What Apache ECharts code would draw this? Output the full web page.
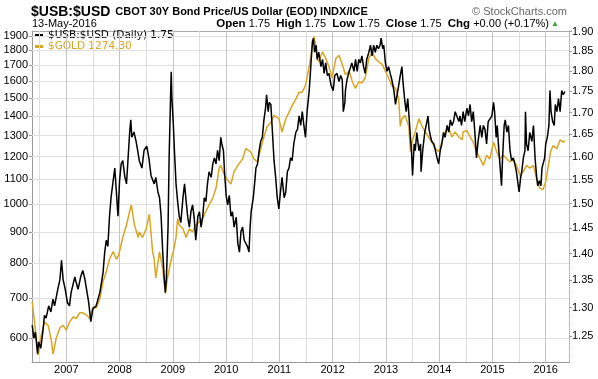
<!DOCTYPE html>
<html><head><meta charset="utf-8">
<script src="https://cdn.jsdelivr.net/npm/echarts/dist/echarts.min.js"></script>
<style>html,body{margin:0;padding:0;background:#fff}#c{width:598px;height:379px}</style>
</head><body><div id="c"></div>
<script>
// ---- data (dates as decimal years) ----
const goldDates = [2006.36,2006.41,2006.47,2006.53,2006.59,2006.66,2006.72,2006.75,2006.81,2006.88,2006.94,
2007.00,2007.06,2007.13,2007.19,2007.25,2007.31,2007.38,2007.44,2007.50,2007.56,2007.63,2007.69,2007.75,2007.81,2007.88,2007.94,2007.98,
2008.06,2008.13,2008.19,2008.22,2008.28,2008.35,
2008.37,2008.43,2008.50,2008.56,2008.62,2008.65,2008.68,2008.75,2008.81,2008.86,2008.90,2008.97,
2009.01,2009.06,2009.09,2009.12,2009.19,2009.25,2009.31,2009.37,2009.43,2009.51,2009.56,2009.62,2009.68,2009.75,2009.81,2009.87,2009.90,2009.97,
2010.01,2010.09,2010.15,2010.22,2010.31,2010.37,
2010.40,2010.46,2010.52,2010.59,2010.65,2010.71,2010.77,2010.84,2010.90,2010.99,
2011.05,2011.12,2011.18,2011.24,2011.31,2011.37,2011.43,2011.49,2011.56,2011.62,2011.65,2011.68,2011.71,2011.74,2011.81,2011.87,2011.93,2011.99,
2012.06,2012.12,2012.18,2012.24,2012.31,2012.37,2012.43,
2012.49,2012.55,2012.61,2012.68,2012.74,2012.80,2012.86,2012.93,2012.99,
2013.05,2013.11,2013.18,2013.24,2013.27,2013.30,2013.36,2013.43,2013.46,2013.49,2013.55,2013.62,2013.68,2013.74,2013.80,2013.86,2013.93,2013.99,
2014.05,2014.11,2014.18,2014.24,2014.30,2014.37,2014.43,
2014.45,2014.52,2014.58,2014.64,2014.70,2014.77,2014.83,2014.89,2014.95,
2015.02,2015.08,2015.14,2015.20,2015.27,2015.33,2015.39,2015.45,2015.52,2015.58,2015.64,2015.70,2015.77,2015.83,2015.89,2015.95,
2016.00,2016.05,2016.09,2016.14,2016.21,2016.27,2016.33,2016.36];
const goldValues = [690,630,563,607,638,630,594,565,600,624,630,
619,638,651,647,661,661,655,647,676,673,698,744,773,811,835,811,822,
881,924,974,998,924,881,
900,881,911,963,835,811,755,835,782,712,755,811,
835,881,947,924,911,881,911,900,924,937,947,974,998,1024,1063,1148,1160,1117,
1103,1080,1133,1160,1189,1237,
1237,1222,1189,1175,1237,1293,1346,1366,1404,1386,
1318,1386,1420,1457,1495,1534,1534,1574,1690,1838,1896,1838,1745,1724,1789,1745,1690,1620,
1745,1766,1706,1639,1662,1596,1556,
1596,1588,1619,1745,1789,1745,1724,1706,1662,
1619,1574,1556,1495,1346,1386,1404,1346,1222,1268,1318,1386,1346,1318,1293,1268,1237,1222,
1268,1318,1336,1293,1318,1293,1279,
1318,1325,1293,1268,1222,1189,1160,1206,1189,
1268,1222,1189,1206,1189,1175,1189,1160,1117,1133,1160,1148,1160,1103,1063,1058,
1090,1160,1222,1251,1237,1279,1268,1274.30];

const usbDates = [2006.36,2006.39,2006.42,2006.46,2006.48,2006.52,2006.56,2006.59,2006.62,2006.67,2006.71,2006.75,2006.78,2006.84,2006.88,2006.91,2006.94,2006.98,
2007.02,2007.06,2007.09,2007.16,2007.19,2007.22,2007.27,2007.31,2007.35,2007.38,2007.42,2007.46,2007.50,2007.56,2007.63,2007.69,2007.72,2007.75,2007.78,2007.81,2007.84,2007.88,2007.91,2007.94,2007.97,
2008.00,2008.03,2008.06,2008.10,2008.13,2008.16,2008.19,2008.21,2008.23,2008.27,
2008.31,2008.34,2008.37,2008.42,2008.46,2008.51,2008.55,2008.59,2008.65,2008.68,2008.72,2008.75,2008.78,2008.81,2008.84,2008.86,2008.88,2008.91,2008.93,2008.96,2008.97,2008.98,
2009.01,2009.03,2009.06,2009.09,2009.12,2009.15,2009.19,2009.22,2009.25,2009.28,2009.31,2009.34,2009.37,2009.40,2009.43,2009.47,2009.50,2009.53,2009.56,2009.59,2009.62,2009.65,2009.68,2009.72,2009.75,2009.78,2009.81,2009.84,2009.87,2009.90,2009.92,2009.95,2009.97,
2010.00,2010.03,2010.06,2010.09,2010.12,2010.15,2010.19,2010.22,2010.25,2010.28,2010.31,2010.34,
2010.37,2010.40,2010.43,2010.45,2010.47,2010.51,2010.54,2010.56,2010.59,2010.62,2010.65,2010.68,2010.71,2010.74,2010.76,2010.79,2010.81,2010.84,2010.87,2010.90,2010.93,2010.96,2010.99,
2011.02,2011.05,2011.09,2011.12,2011.15,2011.18,2011.21,2011.24,2011.27,2011.31,2011.34,2011.37,2011.40,2011.43,2011.46,2011.49,2011.52,2011.56,2011.59,2011.62,2011.64,2011.66,2011.69,2011.71,2011.74,2011.78,2011.81,2011.84,2011.87,2011.90,2011.93,2011.97,
2012.01,2012.04,2012.08,2012.12,2012.15,2012.18,2012.20,2012.23,2012.24,2012.27,2012.31,2012.34,
2012.36,2012.40,2012.43,2012.46,2012.49,2012.52,2012.55,2012.58,2012.61,2012.64,2012.68,2012.71,2012.74,2012.77,2012.80,2012.83,2012.86,2012.89,2012.91,2012.94,2012.96,2012.99,
2013.02,2013.05,2013.08,2013.11,2013.15,2013.18,2013.21,2013.24,2013.27,2013.30,2013.32,2013.35,2013.38,2013.41,2013.44,2013.46,2013.48,2013.50,2013.53,2013.55,2013.58,2013.62,2013.65,2013.66,2013.69,2013.73,2013.77,2013.79,2013.81,2013.84,2013.86,2013.90,2013.93,2013.96,2013.99,
2014.02,2014.05,2014.08,2014.11,2014.15,2014.18,2014.21,2014.24,2014.27,2014.30,2014.33,2014.37,
2014.39,2014.42,2014.45,2014.48,2014.52,2014.55,2014.58,2014.61,2014.64,2014.67,2014.70,2014.73,2014.77,2014.80,2014.83,2014.86,2014.89,2014.92,2014.95,2014.99,
2015.02,2015.04,2015.07,2015.09,2015.12,2015.14,2015.17,2015.19,2015.22,2015.24,2015.27,2015.30,2015.33,2015.36,2015.39,2015.42,2015.45,2015.48,2015.50,2015.53,2015.55,2015.58,2015.61,2015.62,2015.64,2015.67,2015.70,2015.74,2015.77,2015.80,2015.83,2015.85,2015.88,2015.91,2015.93,2015.95,2015.98,
2016.00,2016.03,2016.06,2016.08,2016.10,2016.13,2016.16,2016.18,2016.21,2016.24,2016.27,2016.30,2016.33,2016.36];
const usbValues = [1.269,1.246,1.257,1.220,1.240,1.229,1.257,1.286,1.281,1.303,1.292,1.315,1.303,1.333,1.351,1.387,1.351,1.333,
1.309,1.303,1.327,1.356,1.344,1.333,1.356,1.368,1.351,1.333,1.309,1.275,1.298,1.303,1.327,1.364,1.402,1.426,1.414,1.472,1.512,1.548,1.575,1.524,1.474,
1.548,1.584,1.591,1.555,1.541,1.597,1.655,1.683,1.643,1.655,
1.634,1.613,1.591,1.575,1.614,1.623,1.597,1.559,1.541,1.555,1.524,1.512,1.474,1.403,1.351,1.327,1.356,1.452,1.597,1.752,1.798,1.739,
1.670,1.613,1.541,1.504,1.474,1.461,1.512,1.541,1.504,1.472,1.452,1.483,1.497,1.472,1.426,1.474,1.483,1.452,1.472,1.512,1.504,1.541,1.567,1.555,1.584,1.597,1.584,1.614,1.591,1.643,1.628,1.613,1.567,
1.517,1.497,1.517,1.474,1.483,1.452,1.472,1.420,1.403,1.444,1.452,1.426,
1.426,1.414,1.403,1.452,1.483,1.512,1.548,1.575,1.584,1.613,1.634,1.643,1.683,1.710,1.742,1.702,1.724,1.719,1.654,1.591,1.555,1.512,1.489,
1.524,1.555,1.512,1.524,1.567,1.575,1.597,1.591,1.628,1.655,1.661,1.692,1.670,1.702,1.670,1.643,1.702,1.752,1.811,1.874,1.883,1.847,1.865,1.829,1.847,1.811,1.829,1.794,1.820,1.789,1.794,1.765,
1.752,1.789,1.794,1.774,1.789,1.779,1.702,1.724,1.752,1.779,1.799,1.811,
1.820,1.799,1.829,1.799,1.829,1.820,1.838,1.811,1.794,1.829,1.847,1.865,1.838,1.865,1.847,1.865,1.856,1.865,1.883,1.856,1.865,1.820,
1.799,1.811,1.794,1.779,1.752,1.719,1.742,1.765,1.789,1.811,1.774,1.733,1.702,1.733,1.679,1.643,1.613,1.559,1.628,1.613,1.654,1.613,1.628,1.567,1.613,1.655,1.679,1.692,1.661,1.643,1.634,1.628,1.613,1.597,1.584,
1.614,1.628,1.654,1.643,1.670,1.655,1.683,1.670,1.679,1.702,1.702,1.679,
1.692,1.670,1.702,1.679,1.710,1.692,1.719,1.679,1.702,1.654,1.597,1.634,1.670,1.643,1.670,1.661,1.628,1.679,1.683,1.692,
1.724,1.702,1.643,1.670,1.613,1.584,1.537,1.597,1.670,1.683,1.655,1.670,1.613,1.591,1.597,1.584,1.567,1.541,1.524,1.555,1.567,1.597,1.613,1.702,1.628,1.613,1.654,1.634,1.670,1.597,1.555,1.537,1.548,1.537,1.575,1.584,1.597,
1.628,1.643,1.670,1.752,1.702,1.679,1.670,1.719,1.702,1.733,1.702,1.752,1.742,1.750];

const goldTicks = [600,700,800,900,1000,1100,1200,1300,1400,1500,1600,1700,1800,1900];
const usbTicks = [1.25,1.30,1.35,1.40,1.45,1.50,1.55,1.60,1.65,1.70,1.75,1.80,1.85,1.90];
const yearTicks = [2007,2008,2009,2010,2011,2012,2013,2014,2015,2016];
const halfYearTicks = [2006.5,2007.5,2008.5,2009.5,2010.5,2011.5,2012.5,2013.5,2014.5,2015.5];

// ---- chart ----
const GOLD = '#DAA520';
const FONT = '"Liberation Sans", Arial, sans-serif';
const xMin = 2006.356, xMax = 2016.437;
const usbName = '$USB:$USD (Daily) ' + usbValues[usbValues.length - 1].toFixed(2);
const goldName = '$GOLD ' + goldValues[goldValues.length - 1].toFixed(2);

const hGrid = goldTicks.map(v => ({yAxis: v}));
const vGrid = yearTicks.map(v => ({xAxis: v, lineStyle: {color: '#c4c4c4'}}))
  .concat(halfYearTicks.map(v => ({xAxis: v, lineStyle: {color: '#dedede'}})));

const chart = echarts.init(document.getElementById('c'), null, {renderer: 'canvas'});
chart.setOption({
  animation: false,
  backgroundColor: '#fff',
  textStyle: {fontFamily: FONT},
  title: [
    {left: 31, top: 3, padding: 0,
     text: '{a|$USB:$USD} {b|CBOT 30Y Bond Price/US Dollar (EOD) INDX/ICE}',
     textStyle: {rich: {
       a: {fontSize: 14, fontWeight: 'bold', color: '#000', fontFamily: FONT},
       b: {fontSize: 11, color: '#000', fontFamily: FONT}}}},
    {left: 32, top: 18, padding: 0, text: '13-May-2016',
     textStyle: {fontSize: 11, fontWeight: 'normal', color: '#000', fontFamily: FONT}},
    {right: 31, top: 6, padding: 0, text: '\u00A9 StockCharts.com',
     textStyle: {fontSize: 11, fontWeight: 'normal', color: '#666', fontFamily: FONT}},
    {right: 49, top: 18, padding: 0,
     text: '{l|Open} 1.75  {l|High} 1.75  {l|Low} 1.75  {l|Close} 1.75  {l|Chg} +0.00 (+0.17%)',
     textStyle: {fontSize: 11, fontWeight: 'normal', color: '#000', fontFamily: FONT,
       rich: {l: {fontSize: 11.5, fontWeight: 'bold', color: '#000', fontFamily: FONT}}}},
    {right: 39, top: 20, padding: 0, text: '\u25B2',
     textStyle: {fontSize: 8, fontWeight: 'normal', color: '#3a9a3a'}}
  ],
  legend: {
    left: 35, top: 30, padding: 0, orient: 'vertical', itemGap: 0,
    itemWidth: 8, itemHeight: 3, icon: 'rect', selectedMode: false,
    textStyle: {fontFamily: '"DejaVu Sans", Verdana, sans-serif', fontSize: 10.5, lineHeight: 11},
    data: [{name: usbName, textStyle: {color: '#000'}}, {name: goldName, textStyle: {color: GOLD}}]
  },
  grid: {left: 32, right: 29, top: 31, bottom: 17, containLabel: false},
  xAxis: [
    {type: 'value', min: xMin, max: xMax, position: 'bottom',
     axisLine: {show: true, lineStyle: {color: '#999'}},
     axisTick: {show: false, customValues: yearTicks},
     axisLabel: {customValues: yearTicks, formatter: v => String(Math.round(v)), fontSize: 11, color: '#000', margin: 2, fontFamily: FONT},
     splitLine: {show: false}},
    {type: 'value', min: xMin, max: xMax, position: 'top',
     axisLine: {show: true, lineStyle: {color: '#aaa'}},
     axisTick: {show: false}, axisLabel: {show: false}, splitLine: {show: false}}
  ],
  yAxis: [
    {type: 'log', min: 548, max: 1937, position: 'left',
     axisLine: {show: true, lineStyle: {color: '#999'}},
     axisTick: {show: true, length: 3, customValues: goldTicks, lineStyle: {color: '#999'}},
     axisLabel: {customValues: goldTicks, formatter: v => String(Math.round(v)), fontSize: 11, color: '#000', margin: 4, fontFamily: FONT},
     splitLine: {show: false}},
    {type: 'log', min: 1.2061, max: 1.9018, position: 'right',
     axisLine: {show: true, lineStyle: {color: '#aaa', type: 'dotted'}},
     axisTick: {show: true, length: 3, customValues: usbTicks, lineStyle: {color: '#999'}},
     axisLabel: {customValues: usbTicks, formatter: v => Number(v).toFixed(2), fontSize: 11, color: '#000', margin: 3, fontFamily: FONT},
     splitLine: {show: false}}
  ],
  series: [
    {name: goldName, type: 'line', xAxisIndex: 0, yAxisIndex: 0, showSymbol: false, z: 10,
     data: goldDates.map((d, i) => [d, goldValues[i]]),
     lineStyle: {color: GOLD, width: 1.5}, itemStyle: {color: GOLD},
     markLine: {symbol: 'none', label: {show: false},
       lineStyle: {color: '#e0e0e0', width: 1, type: 'solid'}, data: hGrid}},
    {name: usbName, type: 'line', xAxisIndex: 0, yAxisIndex: 1, showSymbol: false, z: 11,
     data: usbDates.map((d, i) => [d, usbValues[i]]),
     lineStyle: {color: '#000', width: 1.5}, itemStyle: {color: '#000'},
     markLine: {symbol: 'none', label: {show: false},
       lineStyle: {color: '#dedede', width: 1, type: 'solid'}, data: vGrid}}
  ]
});
</script>
</body></html>
